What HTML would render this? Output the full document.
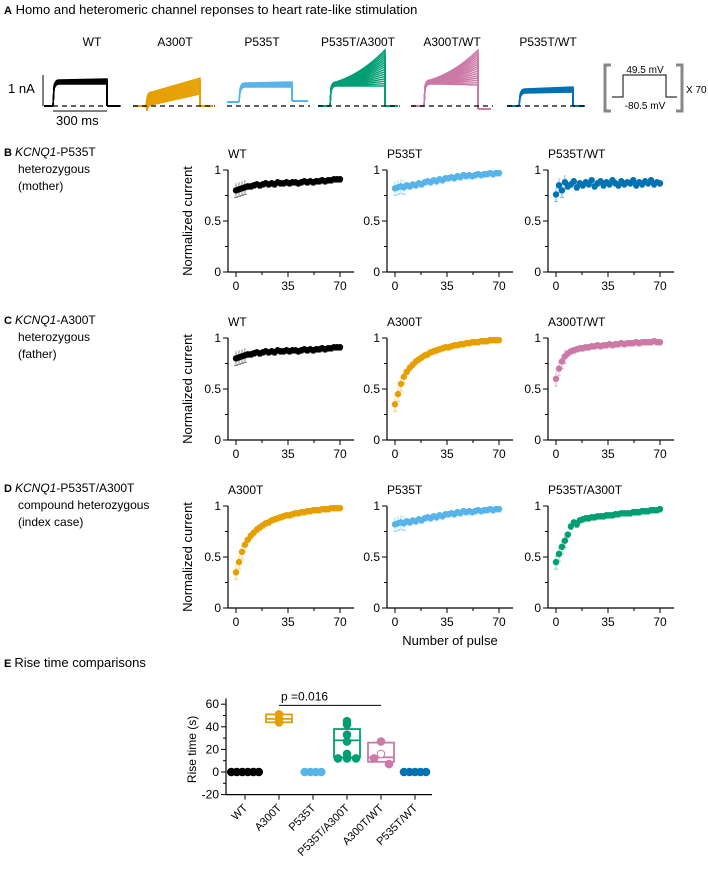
<!DOCTYPE html>
<html><head><meta charset="utf-8"><style>
body{margin:0;background:#fff}
svg{display:block;font-family:"Liberation Sans",Arial,sans-serif}
</style></head><body>
<svg id="fig" width="708" height="874" viewBox="0 0 708 874">
<g id="panelA">
<text x="4" y="14" font-size="13"><tspan font-weight="bold" font-size="11">A</tspan>  Homo and heteromeric channel reponses to heart rate-like stimulation</text>
</g>
<g id="traces"></g>
<g id="rows"></g>
<g id="panelE"></g>
</svg>
<script>
// ---------- data ----------
const wtData=[0.80,0.81,0.82,0.83,0.84,0.84,0.85,0.86,0.85,0.86,0.87,0.86,0.87,0.86,0.88,0.87,0.87,0.88,0.87,0.88,0.88,0.87,0.88,0.89,0.88,0.89,0.88,0.89,0.89,0.90,0.89,0.90,0.90,0.91,0.91,0.91];
const p535tData=[0.82,0.83,0.84,0.83,0.85,0.84,0.86,0.85,0.87,0.86,0.88,0.89,0.88,0.90,0.89,0.91,0.90,0.92,0.92,0.93,0.92,0.94,0.93,0.95,0.94,0.95,0.94,0.95,0.96,0.95,0.96,0.96,0.97,0.96,0.97,0.97];
const p535tWtData=[0.76,0.85,0.80,0.88,0.84,0.86,0.89,0.83,0.87,0.85,0.88,0.86,0.90,0.84,0.87,0.89,0.85,0.88,0.86,0.90,0.87,0.85,0.89,0.86,0.88,0.87,0.90,0.85,0.88,0.86,0.89,0.87,0.90,0.86,0.88,0.87];
const a300tData=[0.35,0.45,0.55,0.62,0.67,0.71,0.74,0.77,0.79,0.81,0.83,0.84,0.86,0.87,0.88,0.89,0.90,0.91,0.91,0.92,0.93,0.93,0.94,0.94,0.95,0.95,0.96,0.96,0.96,0.97,0.97,0.97,0.98,0.98,0.98,0.98];
const a300tWtData=[0.60,0.70,0.77,0.82,0.85,0.87,0.88,0.89,0.90,0.90,0.91,0.91,0.92,0.92,0.93,0.92,0.93,0.93,0.94,0.93,0.94,0.94,0.95,0.94,0.95,0.95,0.95,0.96,0.95,0.96,0.96,0.96,0.96,0.97,0.96,0.96];
const compoundData=[0.45,0.53,0.60,0.66,0.72,0.80,0.84,0.82,0.86,0.87,0.88,0.88,0.89,0.89,0.90,0.90,0.90,0.91,0.91,0.91,0.92,0.92,0.93,0.93,0.93,0.93,0.94,0.94,0.94,0.95,0.95,0.95,0.96,0.96,0.96,0.97];
const pulseStep=2;
const xTicks=[0,35,70];
const yTicks=[0,0.5,1];
const yTickLabels=["0","0.5","1"];

const eCategories=["WT","A300T","P535T","P535T/A300T","A300T/WT","P535T/WT"];
const eWT=[0,0,0,0,0,0];
const eA300T=[51,47,44];
const eP535T=[0,0,0,0];
const eCompound=[45,42,33,27,16,12,12,12];
const eA300TWT=[27,16,12,7];
const eP535TWT=[0,0,0,0,0];
const eBoxes=[[0,0,0],[44,47,51],[0,0,0],[13,28,38],[9,13,26],[0,0,0]];
const eYTicks=[-20,0,20,40,60];

const COL={wt:"#000000",a300t:"#e69f00",p535t:"#56b4e9",comp:"#009e73",a300wt:"#cc79a7",p535wt:"#0072b2"};
const LIGHT={wt:"#888",a300t:"#f5cf7a",p535t:"#a9dcf6",comp:"#7fd2b6",a300wt:"#e6b8d2",p535wt:"#7fb6da"};

const NS="http://www.w3.org/2000/svg";
function mk(tag,attrs,parent){const e=document.createElementNS(NS,tag);for(const k in attrs)e.setAttribute(k,attrs[k]);if(parent)parent.appendChild(e);return e;}
function txt(s,attrs,parent){const e=mk("text",attrs,parent);e.textContent=s;return e;}

// ---------- Panel A traces ----------
const tr=document.getElementById("traces");
const baseY=106;
const traceDefs=[
 {name:"WT",c:COL.wt,lx:92,pre:44,x0:53,x1:107,post:120,preY:106,postY:106,start:80,endLo:84,endHi:79,curve:0,n:8},
 {name:"A300T",c:COL.a300t,lx:175,pre:133,x0:146,x1:200,post:213,preY:106,postY:106,start:92,endLo:94,endHi:78,curve:0,n:12},
 {name:"P535T",c:COL.p535t,lx:262,pre:227,x0:239,x1:292,post:308,preY:102,postY:101,start:83,endLo:87,endHi:82,curve:0,n:8},
 {name:"P535T/A300T",c:COL.comp,lx:358,pre:318,x0:330,x1:385,post:398,preY:106,postY:106,start:82,endLo:86,endHi:50,curve:1,n:16},
 {name:"A300T/WT",c:COL.a300wt,lx:452,pre:411,x0:424,x1:478,post:491,preY:106,postY:109,start:80,endLo:85,endHi:50,curve:1,n:16},
 {name:"P535T/WT",c:COL.p535wt,lx:548,pre:507,x0:519,x1:573,post:585,preY:106,postY:106,start:89,endLo:92,endHi:87,curve:0,n:8}];
traceDefs.forEach(d=>{
  const g=mk("g",{},tr);
  
  
  const lab=txt(d.name,{x:d.lx,y:46,"font-size":12,"text-anchor":"middle"},g);
  
  
  mk("line",{x1:d.pre,y1:d.preY,x2:d.x0,y2:d.preY,stroke:d.c,"stroke-width":2},g);
  mk("line",{x1:d.x1,y1:d.postY,x2:d.post,y2:d.postY,stroke:d.c,"stroke-width":2},g);
  for(let k=0;k<d.n;k++){
    const f=k/(d.n-1);
    const endY=d.endLo+(d.endHi-d.endLo)*f;
    const st=d.curve?d.start+(1-f)*4:(d.start+(d.endLo-d.endHi)*(1-f)*0.8);
    let mid;
    if(d.curve) mid=`Q${(d.x0+d.x1)/2+4},${st-(st-endY)*0.25} ${d.x1},${endY}`;
    else mid=`L${d.x1},${endY}`;
    mk("path",{d:`M${d.x0},${d.preY} L${d.x0+1},${st+6} Q${d.x0+2},${st} ${d.x0+6},${st} ${mid} L${d.x1},${d.postY}`,fill:"none",stroke:d.c,"stroke-width":1.4},g);
  }
  mk("line",{x1:d.pre,y1:baseY,x2:d.post+2,y2:baseY,stroke:"#000","stroke-width":1.2,"stroke-dasharray":"5,4"},g);
});
// scale bar
mk("line",{x1:43,y1:75,x2:43,y2:106,stroke:"#000","stroke-width":1},tr);
mk("line",{x1:53,y1:111,x2:107,y2:111,stroke:"#000","stroke-width":1},tr);
let sb=txt("1 nA",{x:8,y:93,"font-size":13},tr);

sb=txt("300 ms",{x:56,y:125,"font-size":13},tr);

// protocol
const pg=mk("g",{},tr);

mk("path",{d:"M611,65 H605 V111 H611",fill:"none",stroke:"#888","stroke-width":3},pg);
mk("path",{d:"M676,65 H682 V111 H676",fill:"none",stroke:"#888","stroke-width":3},pg);
mk("path",{d:"M612,97 H623 V75 H666 V97 H677",fill:"none",stroke:"#000","stroke-width":1},pg);
txt("49.5 mV",{x:645,y:73,"font-size":10,"text-anchor":"middle"},pg);
txt("-80.5 mV",{x:645,y:109,"font-size":10,"text-anchor":"middle"},pg);
txt("X 70",{x:686,y:93,"font-size":10},pg);

// ---------- Rows B-D ----------
const rowsG=document.getElementById("rows");
const rowTop=[170,338,506];
const colAxisX=[228,387,548];
const plotH=102, plotW=104;
const rowDefs=[
 {letter:"B",lines:[["KCNQ1","-P535T"],["heterozygous"],["(mother)"]],plots:[["WT",wtData,"wt"],["P535T",p535tData,"p535t"],["P535T/WT",p535tWtData,"p535wt"]]},
 {letter:"C",lines:[["KCNQ1","-A300T"],["heterozygous"],["(father)"]],plots:[["WT",wtData,"wt"],["A300T",a300tData,"a300t"],["A300T/WT",a300tWtData,"a300wt"]]},
 {letter:"D",lines:[["KCNQ1","-P535T/A300T"],["compound heterozygous"],["(index case)"]],plots:[["A300T",a300tData,"a300t"],["P535T",p535tData,"p535t"],["P535T/A300T",compoundData,"comp"]]}];
rowDefs.forEach((r,ri)=>{
  const top=rowTop[ri], bot=top+plotH;
  const lg=mk("g",{},rowsG);
  
  
  const t1=mk("text",{x:4,y:top-14,"font-size":12},lg);
  const b=mk("tspan",{"font-weight":"bold","font-size":11},t1);b.textContent=r.letter+"  ";
  const it=mk("tspan",{"font-style":"italic"},t1);it.textContent=r.lines[0][0];
  const rest=mk("tspan",{},t1);rest.textContent=r.lines[0][1];
  txt(r.lines[1][0],{x:18,y:top+3,"font-size":12},lg);
  txt(r.lines[2][0],{x:18,y:top+20,"font-size":12},lg);
  const yl=txt("Normalized current",{x:0,y:0,"font-size":13,"text-anchor":"middle",transform:`translate(192,${top+plotH/2}) rotate(-90)`},rowsG);
  
  r.plots.forEach((p,pi)=>{
    const ax=colAxisX[pi], x0=ax+8, x70=x0+plotW;
    const xs=v=>x0+v/70*plotW, ys=v=>bot-v*plotH;
    const g=mk("g",{},rowsG);
    
    
    const tt=txt(p[0],{x:ax,y:top-12,"font-size":12},g);
    
    mk("line",{x1:ax,y1:top,x2:ax,y2:bot,stroke:"#000","stroke-width":1.2},g);
    mk("line",{x1:ax,y1:bot,x2:x70+14,y2:bot,stroke:"#000","stroke-width":1.2},g);
    yTicks.forEach((v,k)=>{
      mk("line",{x1:ax-5,y1:ys(v),x2:ax,y2:ys(v),stroke:"#000"},g);
      txt(yTickLabels[k],{x:ax-7,y:ys(v)+4,"font-size":12,"text-anchor":"end"},g);
    });
    [0.25,0.75].forEach(v=>mk("line",{x1:ax-3,y1:ys(v),x2:ax,y2:ys(v),stroke:"#000"},g));
    xTicks.forEach(v=>{
      mk("line",{x1:xs(v),y1:bot,x2:xs(v),y2:bot+5,stroke:"#000"},g);
      txt(String(v),{x:xs(v),y:bot+18,"font-size":12,"text-anchor":"middle"},g);
    });
    [17.5,52.5].forEach(v=>mk("line",{x1:xs(v),y1:bot,x2:xs(v),y2:bot+3,stroke:"#000"},g));
    const data=p[1];
    data.forEach((v,k)=>{
      const cx=xs(k*pulseStep);
      const e=0.03+(k<4?0.04:0);
      mk("line",{x1:cx,y1:ys(v+e),x2:cx,y2:ys(v-e),stroke:LIGHT[p[2]],"stroke-width":1},g);
      mk("line",{x1:cx-2,y1:ys(v-e),x2:cx+2,y2:ys(v-e),stroke:LIGHT[p[2]],"stroke-width":1},g);
    });
    data.forEach((v,k)=>{
      const c=mk("circle",{cx:xs(k*pulseStep),cy:ys(v),r:3.2,fill:COL[p[2]]},g);
      
      
    });
  });
});
const xl=txt("Number of pulse",{x:450,y:645,"font-size":13,"text-anchor":"middle"},rowsG);


// ---------- Panel E ----------
const E=document.getElementById("panelE");
let et=mk("text",{x:4,y:667,"font-size":13},E);

let eb=mk("tspan",{"font-weight":"bold","font-size":11},et);eb.textContent="E  ";
let er=mk("tspan",{},et);er.textContent="Rise time comparisons";
const eAx=226, eX0=245, eStep=34, eY=v=>772-v*1.13;
const eX=i=>eX0+i*eStep;
mk("line",{x1:eAx,y1:eY(65),x2:eAx,y2:eY(-20),stroke:"#000","stroke-width":1.2},E);
mk("line",{x1:eAx,y1:eY(-20),x2:432,y2:eY(-20),stroke:"#000","stroke-width":1.2},E);
eYTicks.forEach(v=>{
  mk("line",{x1:eAx-5,y1:eY(v),x2:eAx,y2:eY(v),stroke:"#000"},E);
  txt(String(v),{x:eAx-7,y:eY(v)+4,"font-size":12,"text-anchor":"end"},E);
});
[-10,10,30,50].forEach(v=>mk("line",{x1:eAx-3,y1:eY(v),x2:eAx,y2:eY(v),stroke:"#000"},E));
const ylE=txt("Rise time (s)",{x:0,y:0,"font-size":12,"text-anchor":"middle",transform:`translate(196,${eY(20)}) rotate(-90)`},E);

const eKeys=["wt","a300t","p535t","comp","a300wt","p535wt"];
const ePts=[eWT,eA300T,eP535T,eCompound,eA300TWT,eP535TWT];
eCategories.forEach((c,i)=>{
  const g=mk("g",{},E);
  
  
  const x=eX(i), col=COL[eKeys[i]];
  mk("line",{x1:x,y1:eY(-20),x2:x,y2:eY(-20)+5,stroke:"#000"},g);
  const lab=txt(c,{x:0,y:0,"font-size":11,"text-anchor":"end",transform:`translate(${x+3},${eY(-20)+14}) rotate(-45)`},g);
  
  const bx=eBoxes[i];
  if(bx[2]>bx[0]){
    mk("rect",{x:x-13,y:eY(bx[2]),width:26,height:eY(bx[0])-eY(bx[2]),fill:"none",stroke:col,"stroke-width":1.8},g);
    mk("line",{x1:x-13,y1:eY(bx[1]),x2:x+13,y2:eY(bx[1]),stroke:col,"stroke-width":1.8},g);
  }
  const pts=ePts[i];
  pts.forEach((v,k)=>{
    const n=pts.length;
    let off=0;
    if(bx[2]===0) off=(k-(n-1)/2)*5.5;
    else if(i===3) off=(v===12)?[-9,0,9][k-5]:0;
    else if(i===4) off=[0,0,-7,8][k];
    const c=mk("circle",{cx:x+off,cy:eY(v),r:3.8,fill:(i===4&&k===1)?"#fff":col,stroke:col},g);
    
    
  });
});
mk("line",{x1:eX(1),y1:eY(59),x2:eX(4),y2:eY(59),stroke:"#000","stroke-width":1},E);
let pv=txt("p =0.016",{x:eX(1)+2,y:eY(59)-5,"font-size":12},E);

</script>
</body></html>
